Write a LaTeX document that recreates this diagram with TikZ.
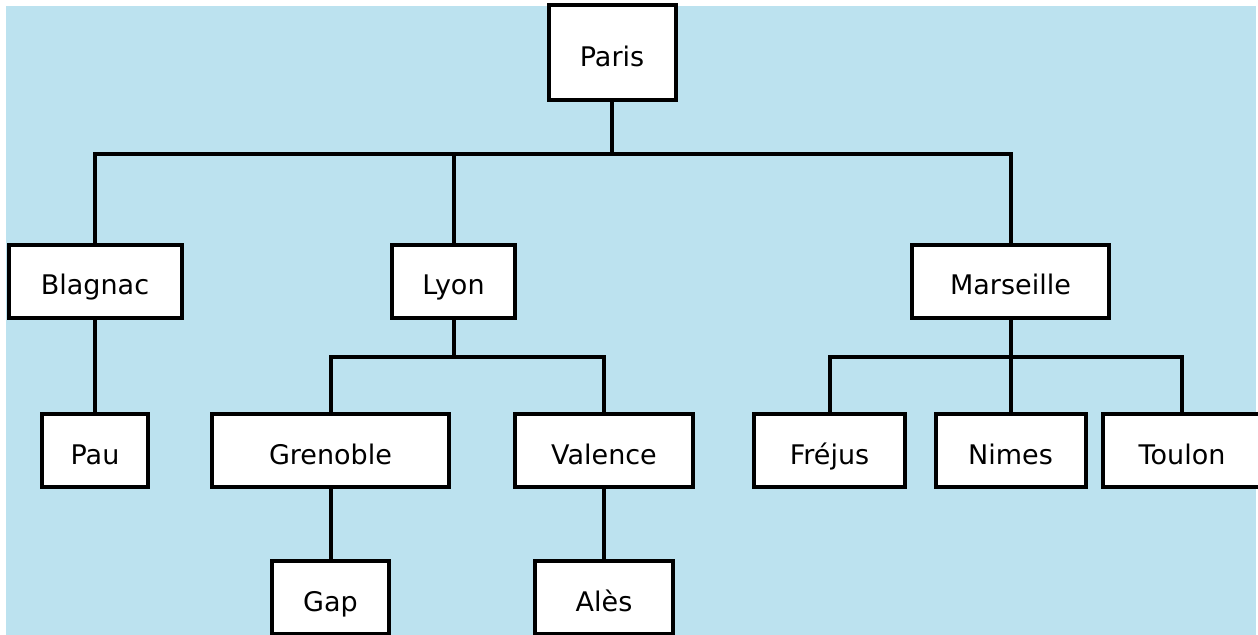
\documentclass[tikz,border=0pt]{standalone}
\usepackage{fontspec}
\setmainfont{DejaVu Sans}
\usetikzlibrary{positioning}
\definecolor{MapSky}{HTML}{BCE2EF}
\tikzset{
  city/.style={draw=black,fill=white,line width=2pt,minimum height=36.5pt,
    inner sep=0pt,text height=13.5pt,text depth=0pt,align=center,
    font=\fontsize{13.5}{16}\selectfont},
  link/.style={line width=2pt,black}
}
\begin{document}
\begin{tikzpicture}[x=0.5pt,y=-0.5pt]
  \useasboundingbox (0,0) rectangle (1258,635);
  \clip (0,0) rectangle (1258,635);
  \fill[white] (0,0) rectangle (1258,635);
  \fill[MapSky] (6,6) rectangle (1256,635);

  \node[city,minimum width=63.5pt,minimum height=47.5pt] (paris) at (612,53) {Paris};

  \node[city,minimum width=86.5pt] (blagnac) at (95,281.5) {Blagnac};
  \node[city,minimum width=61.5pt] (lyon) at (453.5,281.5) {Lyon};
  \node[city,minimum width=98.5pt] (marseille) at (1010.5,281.5) {Marseille};

  \node[city,minimum width=53pt] (pau) at (95,451) {Pau};
  \node[city,minimum width=118.5pt] (grenoble) at (330.5,451) {Grenoble};
  \node[city,minimum width=89pt] (valence) at (604,451) {Valence};
  \node[city,minimum width=75.5pt] (frejus) at (829.5,451) {Fréjus};
  \node[city,minimum width=75pt] (nimes) at (1010.5,451) {Nimes};
  \node[city,minimum width=79pt] (toulon) at (1182,451) {Toulon};

  \node[city,minimum width=58.5pt] (gap) at (330.5,597.5) {Gap};
  \node[city,minimum width=69pt] (ales) at (604,597.5) {Alès};

  % buses
  \coordinate (parisbus) at (612,154);
  \coordinate (lyonbus) at (453.5,357);
  \coordinate (marseillebus) at (1010.5,357);

  \draw[link] (paris) -- (parisbus);
  \draw[link] (blagnac.north) |- (parisbus) -| (marseille.north);
  \draw[link] (parisbus) -| (lyon.north);

  \draw[link] (blagnac) -- (pau);

  \draw[link] (lyon) -- (lyonbus);
  \draw[link] (grenoble.north) |- (lyonbus) -| (valence.north);

  \draw[link] (marseille) -- (marseillebus);
  \draw[link] (frejus.north) |- (marseillebus) -| (toulon.north);
  \draw[link] (marseillebus) -- (nimes);

  \draw[link] (grenoble) -- (gap);
  \draw[link] (valence) -- (ales);
\end{tikzpicture}
\end{document}
